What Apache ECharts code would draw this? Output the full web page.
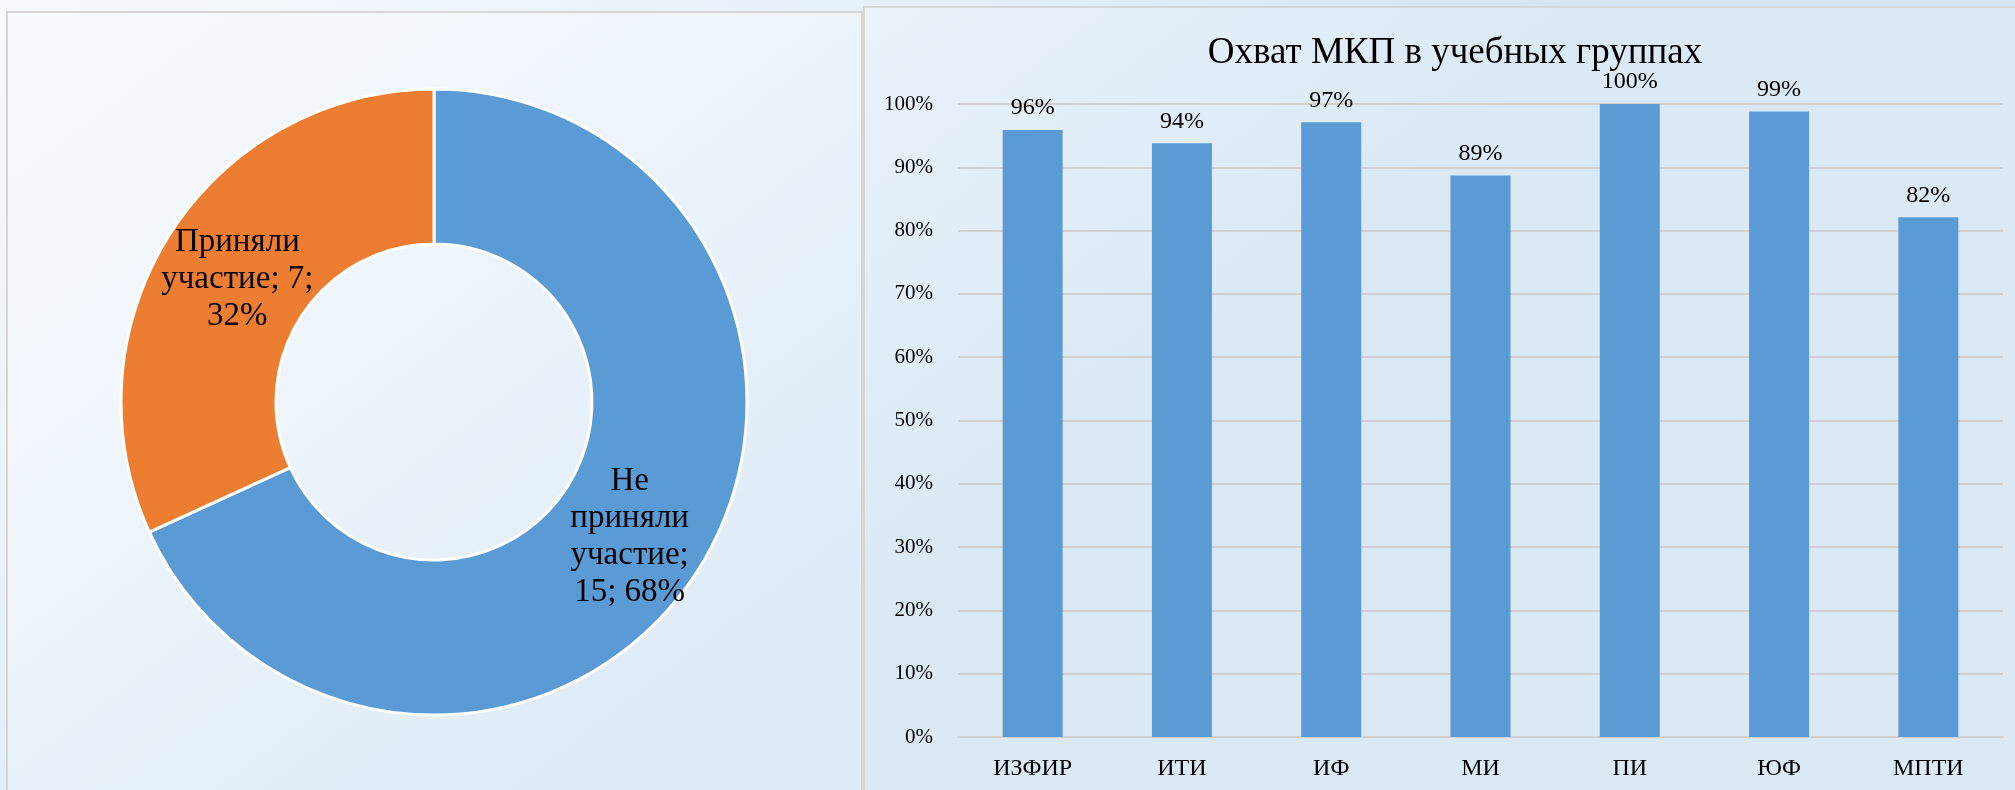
<!DOCTYPE html>
<html>
<head>
<meta charset="utf-8">
<script src="https://cdn.jsdelivr.net/npm/echarts@6/dist/echarts.min.js"></script>
<style>
html,body{margin:0;padding:0;background:#eef4fa;}
#c{width:2015px;height:790px;}
</style>
</head>
<body>
<div id="c"></div>
<script>
// Donut data
const pieNames = ['Не приняли участие', 'Приняли участие'];
const pieValues = [15, 7];
const pieColors = ['#5B9BD5', '#ED7D31'];

// Bar data
const barTitle = 'Охват МКП в учебных группах';
const categories = ['ИЗФИР', 'ИТИ', 'ИФ', 'МИ', 'ПИ', 'ЮФ', 'МПТИ'];
const coverage = [95.9, 93.8, 97.1, 88.7, 100, 98.8, 82.1];

const FONT = '"Liberation Serif", "Times New Roman", serif';

const chart = echarts.init(document.getElementById('c'), null, {renderer: 'canvas'});

const pieLabelOffsets = [[-5, 6], [4, 6]];

const option = {
  backgroundColor: {
    type: 'linear', x: 0, y: 0, x2: 0.3, y2: 1,
    colorStops: [
      {offset: 0, color: '#f7fafd'},
      {offset: 0.45, color: '#e9f2fa'},
      {offset: 1, color: '#d3e4f2'}
    ]
  },
  animation: false,
  graphic: [
    {type: 'rect', shape: {x: 7, y: 12, width: 855, height: 800}, style: {fill: 'rgba(255,255,255,0.25)', stroke: '#d6d6d6', lineWidth: 2}, z: -1},
    {type: 'rect', shape: {x: 864, y: 7, width: 1200, height: 800}, style: {fill: 'rgba(255,255,255,0.2)', stroke: '#d6d6d6', lineWidth: 2}, z: -1}
  ],
  title: {
    text: barTitle,
    left: 1450, top: 30, textAlign: 'center',
    textStyle: {fontFamily: FONT, fontSize: 37, fontWeight: 'normal', color: '#000'}
  },
  grid: {left: 958, right: 12, top: 104, bottom: 53},
  xAxis: {
    type: 'category',
    data: categories,
    axisLine: {show: true, lineStyle: {color: '#d0d0d0', width: 2}},
    axisTick: {show: false},
    axisLabel: {fontFamily: FONT, fontSize: 24, color: '#000', margin: 20}
  },
  yAxis: {
    type: 'value',
    min: 0, max: 100, interval: 10,
    axisLine: {show: false},
    axisTick: {show: false},
    splitLine: {lineStyle: {color: '#d0d0d0', width: 2}},
    axisLabel: {fontFamily: FONT, fontSize: 21, color: '#000', margin: 25, formatter: v => v + '%'}
  },
  series: [
    {
      type: 'pie',
      center: [434, 402],
      radius: [158, 313],
      startAngle: 90,
      clockwise: true,
      data: pieNames.map((n, i) => ({
        name: n, value: pieValues[i],
        itemStyle: {color: pieColors[i]},
        label: {offset: pieLabelOffsets[i]}
      })),
      itemStyle: {borderColor: '#ffffff', borderWidth: 3},
      label: {
        show: true,
        position: 'inside',
        fontFamily: FONT,
        fontSize: 33,
        lineHeight: 37,
        color: '#000',
        formatter: p => {
          const pct = Math.round(p.percent) + '%';
          return p.dataIndex === 0 ? 'Не\nприняли\nучастие;\n' + p.value + '; ' + pct
                                   : 'Приняли\nучастие; ' + p.value + ';\n' + pct;
        }
      },
      labelLine: {show: false},
      emphasis: {disabled: true}
    },
    {
      type: 'bar',
      data: coverage,
      barWidth: 60,
      itemStyle: {color: '#5B9BD5'},
      label: {
        show: true, position: 'top', distance: 10,
        fontFamily: FONT, fontSize: 24, color: '#000',
        formatter: p => Math.round(p.value) + '%'
      }
    }
  ]
};
chart.setOption(option);
</script>
</body>
</html>
